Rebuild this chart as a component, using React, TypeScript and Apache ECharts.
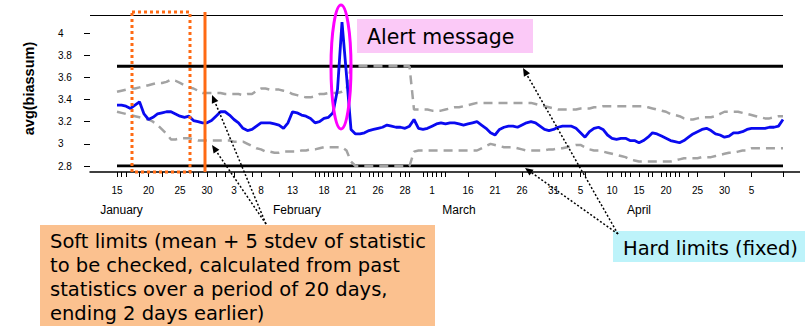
import React, { useEffect, useRef } from "react";
import * as echarts from "echarts";

// ---- data ----
const RUN_COUNT = 155; // category slots (runs) along the x axis
const FIRST_RUN = 6; // first run that has statistics

const tickLabelRuns = [6, 13, 20, 26, 32, 38, 45, 52, 58, 64, 70, 76, 84, 90, 96, 103, 109, 116, 122, 128, 135, 141, 147];
const tickLabels = ["15", "20", "25", "30", "3", "8", "13", "18", "21", "26", "28", "1", "16", "21", "26", "31", "5", "10", "15", "20", "25", "30", "5"];
const extraTickRuns = [7, 8, 11, 16, 23, 24, 28, 30, 36, 42, 50, 51, 53, 54, 55, 56, 60, 62, 63, 65, 67, 69, 71, 74, 75, 77, 78, 79, 104, 105, 107, 110, 115, 118, 119, 120, 124, 125, 127, 129, 130, 131, 133];
const monthRuns = [7, 46, 82, 122];
const monthLabels = ["January", "February", "March", "April"];

// avg(biassum) per run, starting at FIRST_RUN
const avgValues = [
  3.35, 3.35, 3.34, 3.32, 3.35, 3.38, 3.27, 3.22, 3.24, 3.27,
  3.28, 3.29, 3.29, 3.27, 3.25, 3.24, 3.25, 3.21, 3.20, 3.19,
  3.19, 3.21, 3.25, 3.29, 3.29, 3.26, 3.22, 3.19, 3.14, 3.12,
  3.13, 3.16, 3.19, 3.19, 3.19, 3.18, 3.17, 3.14, 3.19, 3.29,
  3.28, 3.26, 3.25, 3.23, 3.19, 3.20, 3.23, 3.24, 3.28, 3.49,
  4.10, 3.62, 3.13, 3.09, 3.09, 3.10, 3.12, 3.13, 3.14, 3.15,
  3.17, 3.16, 3.15, 3.15, 3.14, 3.16, 3.22, 3.14, 3.13, 3.14,
  3.16, 3.18, 3.19, 3.18, 3.19, 3.19, 3.18, 3.17, 3.18, 3.19,
  3.20, 3.17, 3.14, 3.10, 3.08, 3.13, 3.15, 3.16, 3.16, 3.15,
  3.17, 3.19, 3.20, 3.19, 3.16, 3.13, 3.12, 3.13, 3.15, 3.16,
  3.16, 3.16, 3.14, 3.10, 3.06, 3.11, 3.14, 3.15, 3.13, 3.08,
  3.05, 3.04, 3.05, 3.05, 3.03, 3.03, 3.01, 3.03, 3.06, 3.10,
  3.09, 3.07, 3.05, 3.03, 3.02, 3.01, 3.03, 3.06, 3.09, 3.11,
  3.13, 3.14, 3.12, 3.09, 3.08, 3.06, 3.07, 3.10, 3.10, 3.11,
  3.13, 3.14, 3.14, 3.14, 3.14, 3.15, 3.15, 3.16, 3.22,
];

// soft limits (mean +/- 5 stdev over past 20 days, ending 2 days earlier)
const softUpper = [
  3.47, 3.48, 3.49, 3.50, 3.50, 3.51, 3.52, 3.53, 3.54, 3.55,
  3.55, 3.56, 3.58, 3.57, 3.55, 3.53, 3.51, 3.50, 3.48, 3.46,
  3.46, 3.46, 3.46, 3.46, 3.45, 3.45, 3.45, 3.45, 3.44, 3.45,
  3.45, 3.48, 3.50, 3.50, 3.49, 3.49, 3.49, 3.48, 3.47, 3.45,
  3.44, 3.43, 3.42, 3.42, 3.43, 3.45, 3.45, 3.46, 3.46, 3.46,
  3.47, 3.49, 3.70, 3.70, 3.70, 3.70, 3.70, 3.70, 3.70, 3.70,
  3.70, 3.70, 3.70, 3.70, 3.70, 3.70, 3.31, 3.31, 3.31, 3.31,
  3.30, 3.30, 3.30, 3.31, 3.32, 3.33, 3.33, 3.34, 3.35, 3.36,
  3.37, 3.37, 3.37, 3.37, 3.37, 3.37, 3.37, 3.37, 3.37, 3.37,
  3.37, 3.37, 3.37, 3.36, 3.35, 3.34, 3.33, 3.32, 3.31, 3.31,
  3.31, 3.31, 3.31, 3.32, 3.32, 3.32, 3.33, 3.33, 3.34, 3.34,
  3.34, 3.34, 3.34, 3.34, 3.34, 3.34, 3.34, 3.34, 3.33, 3.32,
  3.31, 3.30, 3.29, 3.27, 3.26, 3.25, 3.23, 3.22, 3.22, 3.23,
  3.24, 3.24, 3.24, 3.25, 3.27, 3.29, 3.29, 3.29, 3.29, 3.28,
  3.27, 3.26, 3.25, 3.24, 3.23, 3.23, 3.24, 3.25, 3.25,
];
const softLower = [
  3.29, 3.28, 3.27, 3.26, 3.25, 3.24, 3.23, 3.22, 3.20, 3.17,
  3.13, 3.09, 3.04, 3.04, 3.05, 3.05, 3.05, 3.04, 3.03, 3.03,
  3.03, 3.03, 3.03, 3.03, 3.03, 3.03, 3.02, 3.02, 3.02, 3.00,
  2.98, 2.96, 2.95, 2.93, 2.93, 2.92, 2.92, 2.93, 2.93, 2.93,
  2.93, 2.94, 2.94, 2.95, 2.95, 2.96, 2.97, 2.97, 2.97, 2.97,
  2.97, 2.94, 2.84, 2.80, 2.80, 2.80, 2.80, 2.80, 2.80, 2.80,
  2.80, 2.80, 2.80, 2.80, 2.80, 2.80, 2.93, 2.94, 2.94, 2.94,
  2.94, 2.94, 2.94, 2.94, 2.94, 2.94, 2.94, 2.94, 2.94, 2.94,
  2.94, 2.96, 2.98, 3.00, 2.99, 2.98, 2.97, 2.97, 2.97, 2.96,
  2.95, 2.94, 2.94, 2.94, 2.94, 2.94, 2.95, 2.95, 2.96, 2.96,
  2.97, 2.98, 2.99, 2.99, 2.97, 2.95, 2.94, 2.94, 2.93, 2.92,
  2.91, 2.90, 2.89, 2.88, 2.86, 2.85, 2.84, 2.84, 2.84, 2.84,
  2.84, 2.84, 2.84, 2.84, 2.85, 2.86, 2.87, 2.87, 2.87, 2.87,
  2.88, 2.88, 2.88, 2.89, 2.90, 2.91, 2.92, 2.92, 2.93, 2.94,
  2.94, 2.96, 2.96, 2.96, 2.96, 2.96, 2.96, 2.96, 2.96,
];

const HARD_UPPER = 3.7;
const HARD_LOWER = 2.8;
const FRAME_TOP = 4.16;

const FONT = "Liberation Sans, Arial, sans-serif";
const NOTE_FONT = "DejaVu Sans, Verdana, sans-serif";

function arrow(x1: number, y1: number, x2: number, y2: number) {
  const dx = x2 - x1;
  const dy = y2 - y1;
  const len = Math.sqrt(dx * dx + dy * dy);
  const ux = dx / len;
  const uy = dy / len;
  const hl = 8;
  const hw = 3.5;
  const bx = x2 - ux * hl;
  const by = y2 - uy * hl;
  return [
    {
      type: "line",
      z: 100,
      shape: { x1, y1, x2: bx, y2: by },
      style: { stroke: "#000", lineWidth: 1.5, lineDash: [2, 2] },
    },
    {
      type: "polygon",
      z: 100,
      shape: {
        points: [
          [x2, y2],
          [bx - uy * hw, by + ux * hw],
          [bx + uy * hw, by - ux * hw],
        ],
      },
      style: { fill: "#000" },
    },
  ];
}

export default function App() {
  const ref = useRef<HTMLDivElement>(null);

  useEffect(() => {
    if (!ref.current) return;
    const chart = echarts.init(ref.current, null, { renderer: "svg" });

    const lastRun = RUN_COUNT - 1;
    const categories = Array.from({ length: RUN_COUNT }, (_, i) => "run" + i);
    const pad = (arr: number[]) => [...Array(FIRST_RUN).fill(null), ...arr];
    const labelMap = new Map<number, string>();
    tickLabelRuns.forEach((r, k) => labelMap.set(r, tickLabels[k]));
    const tickSet = new Set<number>([...tickLabelRuns, ...extraTickRuns]);
    const monthMap = new Map<number, string>();
    monthRuns.forEach((r, k) => monthMap.set(r, monthLabels[k]));
    const hardUpper = categories.map((_, i) => (i >= FIRST_RUN ? HARD_UPPER : null));
    const hardLower = categories.map((_, i) => (i >= FIRST_RUN ? HARD_LOWER : null));

    const softLineStyle = { color: "#a3a3a3", width: 2.5, type: [9, 6] as any };

    const softText = [
      "Soft limits (mean + 5 stdev of statistic",
      "to be checked, calculated from past",
      "statistics over a period of 20 days,",
      "ending 2 days earlier)",
    ];

    const graphics: any[] = [
      { type: "line", z: 5, shape: { x1: 783, y1: 172, x2: 800, y2: 172 }, style: { stroke: "#000", lineWidth: 1.5 } },
      {
        type: "rect", z: 100,
        shape: { x: 132, y: 12, width: 58, height: 160 },
        style: { fill: "none", stroke: "#ff6a13", lineWidth: 3, lineDash: [3, 3] },
      },
      { type: "line", z: 100, shape: { x1: 205, y1: 12, x2: 205, y2: 172 }, style: { stroke: "#ff6a13", lineWidth: 3 } },
      {
        type: "ellipse", z: 100,
        shape: { cx: 341, cy: 67, rx: 10, ry: 62 },
        style: { fill: "none", stroke: "#ff00ff", lineWidth: 3 },
      },
      { type: "rect", z: 100, shape: { x: 357, y: 19, width: 176, height: 34 }, style: { fill: "#fbc9f7" } },
      {
        type: "text", z: 101, x: 367, y: 37,
        style: { text: "Alert message", fontSize: 20.5, fontFamily: NOTE_FONT, fill: "#000", verticalAlign: "middle" },
      },
      { type: "rect", z: 100, shape: { x: 40, y: 225, width: 395, height: 101 }, style: { fill: "#fbc18f" } },
      ...softText.map((t, k) => ({
        type: "text", z: 101, x: 50, y: 241 + k * 24,
        style: { text: t, fontSize: 19.5, fontFamily: NOTE_FONT, fill: "#000", verticalAlign: "middle" },
      })),
      { type: "rect", z: 100, shape: { x: 613, y: 231, width: 192, height: 31 }, style: { fill: "#bdf3fa" } },
      {
        type: "text", z: 101, x: 623, y: 248,
        style: { text: "Hard limits (fixed)", fontSize: 19.5, fontFamily: NOTE_FONT, fill: "#000", verticalAlign: "middle" },
      },
      ...arrow(266, 224, 212, 95),
      ...arrow(266, 224, 212, 145),
      ...arrow(618, 234, 523, 68),
      ...arrow(618, 234, 525, 168),
    ];

    chart.setOption({
      animation: false,
      backgroundColor: "#fff",
      textStyle: { fontFamily: FONT },
      grid: { left: 90, right: 22, top: 11, bottom: 160, containLabel: false },
      xAxis: [
        {
          type: "category",
          data: categories,
          boundaryGap: false,
          offset: 6,
          axisLine: { lineStyle: { color: "#000", width: 1.5 } },
          axisTick: {
            // the axis end carries an invisible sentinel tick/label
            interval: (i: number) => tickSet.has(i) || i === lastRun,
            length: 5,
            lineStyle: { color: "#000", width: 1 },
          },
          axisLabel: {
            interval: (i: number) => labelMap.has(i) || i === lastRun,
            formatter: (_v: string, i: number) => labelMap.get(i) || " ",
            margin: 13,
            fontSize: 10,
            color: "#000",
            fontFamily: FONT,
          },
          splitLine: { show: false },
        },
        {
          type: "category",
          data: categories,
          boundaryGap: false,
          position: "bottom",
          offset: 6,
          axisLine: { show: false },
          axisTick: { show: false },
          axisLabel: {
            interval: (i: number) => monthMap.has(i),
            formatter: (_v: string, i: number) => monthMap.get(i) || "",
            margin: 32,
            fontSize: 12,
            color: "#000",
            fontFamily: FONT,
          },
          splitLine: { show: false },
        },
      ],
      yAxis: {
        type: "value",
        min: 2.8,
        max: 4.2,
        interval: 0.2,
        name: "avg(biassum)",
        nameLocation: "middle",
        nameRotate: 90,
        nameGap: 54,
        nameTextStyle: { fontWeight: "bold", fontSize: 14.5, color: "#000", fontFamily: FONT },
        splitLine: { show: false },
        axisLine: { show: false },
        axisTick: { show: true, length: 6, lineStyle: { color: "#000" } },
        axisLabel: {
          showMaxLabel: false,
          align: "left",
          margin: 32,
          fontSize: 10,
          color: "#000",
          fontFamily: FONT,
        },
      },
      series: [
        {
          name: "Hard upper",
          type: "line",
          data: hardUpper,
          symbol: "none",
          z: 2,
          lineStyle: { color: "#000", width: 3 },
          markLine: {
            silent: true,
            symbol: "none",
            label: { show: false },
            lineStyle: { color: "#000", width: 1.2, type: "solid" },
            data: [{ yAxis: FRAME_TOP }],
          },
        },
        {
          name: "Hard lower",
          type: "line",
          data: hardLower,
          symbol: "none",
          z: 2,
          lineStyle: { color: "#000", width: 3 },
        },
        {
          name: "Soft upper",
          type: "line",
          data: pad(softUpper),
          symbol: "none",
          z: 3,
          lineStyle: softLineStyle,
        },
        {
          name: "Soft lower",
          type: "line",
          data: pad(softLower),
          symbol: "none",
          z: 3,
          lineStyle: softLineStyle,
        },
        {
          name: "avg(biassum)",
          type: "line",
          data: pad(avgValues),
          symbol: "none",
          z: 4,
          lineStyle: { color: "#0a0af0", width: 2.8 },
        },
      ],
      graphic: graphics,
    });

    return () => chart.dispose();
  }, []);

  return (
    <div
      ref={ref}
      style={{ position: "absolute", left: 0, top: 0, width: 805, height: 326, background: "#fff" }}
    />
  );
}
